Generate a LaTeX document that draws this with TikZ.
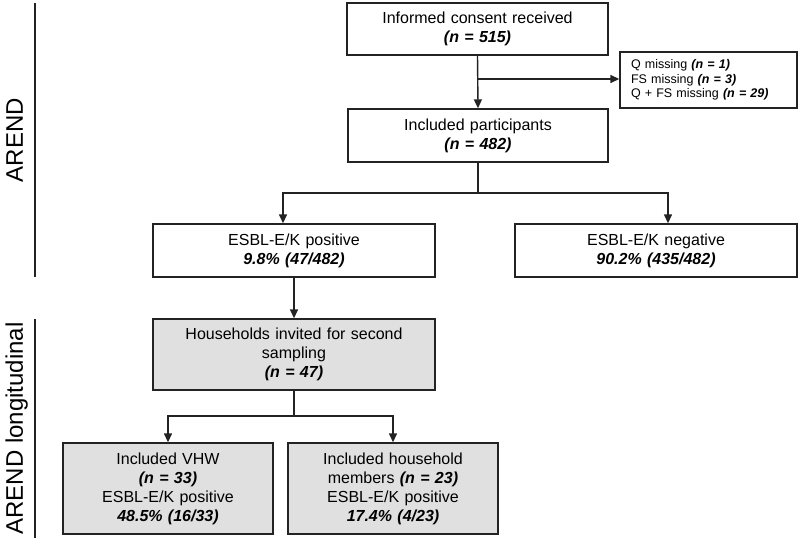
\documentclass[tikz,border=0pt]{standalone}
\usepackage{fontspec}
\setmainfont{Liberation Sans}
\usetikzlibrary{arrows.meta}
\definecolor{boxgrey}{RGB}{224,224,224}
\definecolor{linegrey}{RGB}{35,35,35}
\newcommand{\nbold}[1]{\textbf{\textit{#1}}}

\begin{document}
\begin{tikzpicture}[x=1pt,y=-1pt]
\tikzset{box style/.style={shape=rectangle,draw=linegrey,line width=1.4pt,inner sep=0pt,align=center,font=\fontsize{16}{19}\selectfont},
         grey style/.style={box style,fill=boxgrey},
         arrow style/.style={draw=linegrey,line width=1.4pt,-{Triangle[length=9pt,width=8pt]}},
         side style/.style={rotate=90,anchor=base,font=\fontsize{24}{24}\selectfont}}

\useasboundingbox (0,0) rectangle (800,538);

% side labels
\node[side style] at (23,140)   (arend)   {AREND};
\node[side style] at (23,428.5) (arendlong) {AREND longitudinal};
\draw[draw=linegrey,line width=2pt] (35,3) -- (35,277);
\draw[draw=linegrey,line width=2pt] (35,319) -- (35,538);

% boxes
\node[box style, text width=261pt, minimum height=52pt] at (477.5,29)  (consent)  {Informed consent received\\\nbold{(n = 515)}};
\node[box style, text width=260pt, minimum height=53pt] at (478,135.5) (included) {Included participants\\\nbold{(n = 482)}};
\node[box style, text width=155pt, inner xsep=11pt, align=left, minimum height=56pt,
      font=\fontsize{12.5}{14.7}\selectfont] at (708.5,80) (missing)
      {Q missing \nbold{(n = 1)}\\FS missing \nbold{(n = 3)}\\Q + FS missing \nbold{(n = 29)}};

\node[box style, text width=282pt, minimum height=53pt] at (294,250.5) (pos) {ESBL-E/K positive\\\nbold{9.8\% (47/482)}};
\node[box style, text width=282pt, minimum height=53pt] at (656,250.5) (neg) {ESBL-E/K negative\\\nbold{90.2\% (435/482)}};

\node[grey style, text width=282pt, minimum height=71pt] at (294,354.5) (households) {Households invited for second\\sampling\\\nbold{(n = 47)}};
\node[grey style, text width=210pt, minimum height=91pt] at (168,488.5) (vhw) {Included VHW\\\nbold{(n = 33)}\\ESBL-E/K positive\\\nbold{48.5\% (16/33)}};
\node[grey style, text width=210pt, minimum height=91pt] at (393,488.5) (members) {Included household\\members \nbold{(n = 23)}\\ESBL-E/K positive\\\nbold{17.4\% (4/23)}};

% connectors
\coordinate (split1) at (477.5,79);
\coordinate (split2) at (478,193);
\coordinate (split3) at (294,416);

\draw[arrow style] (consent.south) -- (included.north);
\draw[arrow style] (split1) -- (split1 -| missing.west);
\draw[draw=linegrey,line width=1.4pt] (included.south) -- (split2);
\draw[arrow style] (split2) -| ([xshift=-11pt]pos.north);
\draw[arrow style] (split2) -| ([xshift=12pt]neg.north);
\draw[arrow style] (pos.south) -- (households.north);
\draw[draw=linegrey,line width=1.4pt] (households.south) -- (split3);
\draw[arrow style] (split3) -| (vhw.north);
\draw[arrow style] (split3) -| (members.north);
\end{tikzpicture}
\end{document}
